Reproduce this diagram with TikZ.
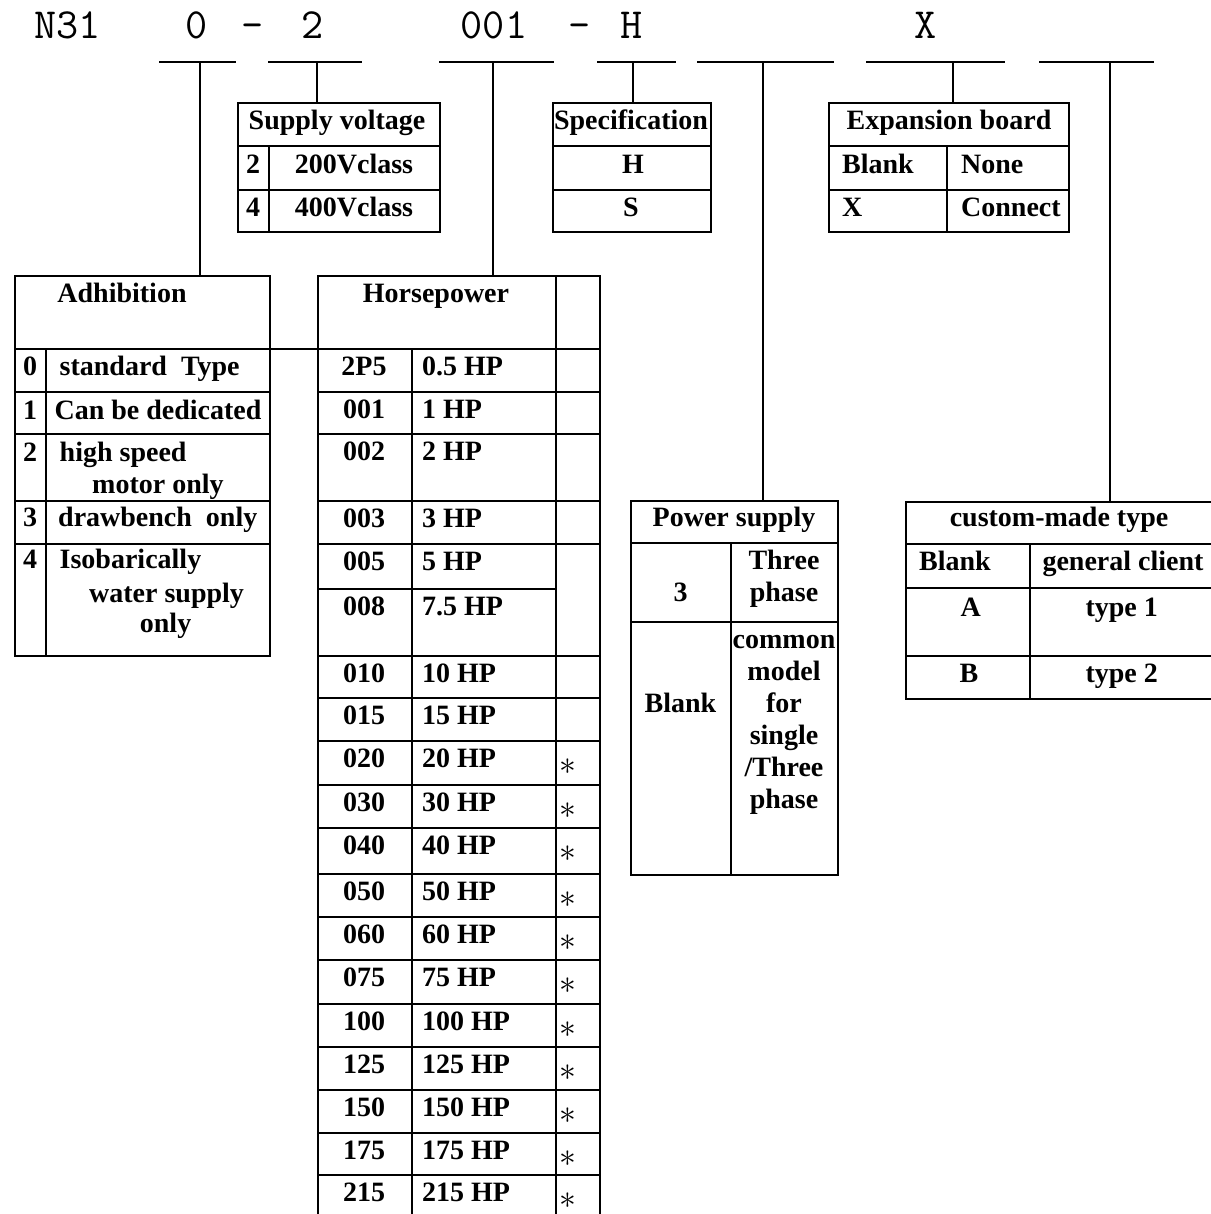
\documentclass[tikz,border=0pt]{standalone}
\usepackage{fontspec}
\setmainfont{Liberation Serif}
\usetikzlibrary{calc}
\tikzset{
  tbl/.style={line width=2.5pt},
  con/.style={line width=2pt},
  txt/.style={font=\bfseries\fontsize{28}{32}\selectfont,inner sep=0pt,anchor=base},
  txtl/.style={txt,anchor=base west},
  startxt/.style={txt,scale=1.35},
  codetxt/.style={font=\ttfamily\fontsize{43}{46}\selectfont,inner sep=0pt,anchor=base}
}
\begin{document}
\begin{tikzpicture}[x=1pt,y=-1pt]
\useasboundingbox (0,0) rectangle (1210,1214);
\node[codetxt](n31)at(67.5,39){N31};
\node[codetxt](c0)at(197,39){0};
\node[codetxt](dash1)at(253,39){-};
\node[codetxt](c2)at(313,39){2};
\node[codetxt](c001)at(494,39){001};
\node[codetxt](dash2)at(580,39){-};
\node[codetxt](cH)at(632,39){H};
\node[codetxt](cX)at(926,39){X};
\foreach \a/\b in {159/236,268/362,439/554,597/676,697/834,866/1005,1039/1154} \draw[con](\a,62)--(\b,62);
\foreach \n/\x/\y in {adh/199.5/276,sup/316.7/103,hp/492.7/276,spec/633/103,pow/763/501,exp/953/103,cus/1110/501}{
  \coordinate(\n-u)at(\x,62);
  \coordinate(\n-t)at(\x,\y);
  \draw[con](\n-u)--(\n-t);}
\draw[tbl](238,103)rectangle(440,232) (238,146)--(440,146) (238,190)--(440,190) (269,146)--(269,232);
\node[txt](supHead)at(337,130){Supply voltage};
\node[txt](sup2)at(253,173.5){2};
\node[txt](sup2v)at(354,173.5){200Vclass};
\node[txt](sup4)at(253,217){4};
\node[txt](sup4v)at(354,217){400Vclass};
\draw[tbl](553,103)rectangle(711,232) (553,146)--(711,146) (553,190)--(711,190);
\node[txt](specHead)at(631,130){Specification};
\node[txt](specH)at(633,173.5){H};
\node[txt](specS)at(631,217){S};
\draw[tbl](829,103)rectangle(1069,232) (829,146)--(1069,146) (829,190)--(1069,190) (947,146)--(947,232);
\node[txt](expHead)at(949,130){Expansion board};
\node[txtl](expB)at(842,173.5){Blank};
\node[txtl](expN)at(961,173.5){None};
\node[txtl](expX)at(842,217){X};
\node[txtl](expC)at(961,217){Connect};
\draw[tbl](15,276)rectangle(270,656) (46,349)--(46,656);
\foreach \y in {349,392,434,501,544} \draw[tbl](15,\y)--(270,\y);
\node[txt](adhHead)at(122,302.7){Adhibition};
\foreach \d/\y in {0/375,1/419,2/461.7,3/526.7,4/568} \node[txt](adh\d)at(30,\y){\d};
\node[txtl](adh0t)at(59.5,375){standard\ \ Type};
\node[txtl](adh1t)at(54.4,419){Can be dedicated};
\node[txtl](adh2t)at(59.5,461.7){high speed};
\node[txtl](adh2u)at(92,493){motor only};
\node[txtl](adh3t)at(58,526.7){drawbench\ \ only};
\node[txtl](adh4t)at(59.5,568){Isobarically};
\node[txtl](adh4u)at(89,602){water supply};
\node[txtl](adh4v)at(139.7,632){only};
\coordinate(adh-r)at(270,349);
\coordinate(hp-l)at(318,349);
\draw[con](adh-r)--(hp-l);
\draw[tbl](318,1214)|-(600,276)--(600,1214) (412,349)--(412,1214) (556,276)--(556,1214) (318,589)--(556,589);
\foreach \y in {349,392,434,501,544,656,698,741,785,828,874,917,960,1004,1047,1090,1133,1175} \draw[tbl](318,\y)--(600,\y);
\node[txt](hpHead)at(436,302.7){Horsepower};
\foreach \y/\c/\v [count=\i] in {349/2P5/0.5 HP,392/001/1 HP,434/002/2 HP,501/003/3 HP,544/005/5 HP,589/008/7.5 HP,
  656/010/10 HP,698/015/15 HP,741/020/20 HP,785/030/30 HP,828/040/40 HP,874/050/50 HP,917/060/60 HP,
  960/075/75 HP,1004/100/100 HP,1047/125/125 HP,1090/150/150 HP,1133/175/175 HP,1175/215/215 HP}{
  \node[txt](hc\i)at(364,{\y+26.5}){\c};
  \node[txtl](hv\i)at(422,{\y+26.5}){\v};}
\foreach \y [count=\i] in {741,785,828,874,917,960,1004,1047,1090,1133,1175} \node[startxt](st\i)at(568,{\y+33}){$\ast$};
\draw[tbl](631,501)rectangle(838,875) (631,543)--(838,543) (631,622)--(838,622) (731,543)--(731,875);
\node[txt](powHead)at(734,526.7){Power supply};
\node[txt](pow3)at(680.5,601.7){3};
\node[txt](powT1)at(784,569){Three};
\node[txt](powT2)at(784,601.7){phase};
\node[txt](powB)at(680.5,712){Blank};
\foreach \t [count=\i] in {common,model,for,single,/Three,phase} \node[txt](powC\i)at(784,{616+32*\i}){\t};
\draw[tbl](1215,502)-|(906,699)--(1215,699) (906,544)--(1215,544) (906,588)--(1215,588) (906,656)--(1215,656) (1030,544)--(1030,699);
\node[txt](cusHead)at(1059,526.7){custom-made type};
\node[txtl](cusB)at(919,570){Blank};
\node[txt](cusG)at(1123,570){general client};
\node[txt](cusA)at(970.7,616){A};
\node[txt](cusA1)at(1121.7,616){type 1};
\node[txt](cusBB)at(969,682){B};
\node[txt](cusB2)at(1121.7,682){type 2};
\end{tikzpicture}
\end{document}
